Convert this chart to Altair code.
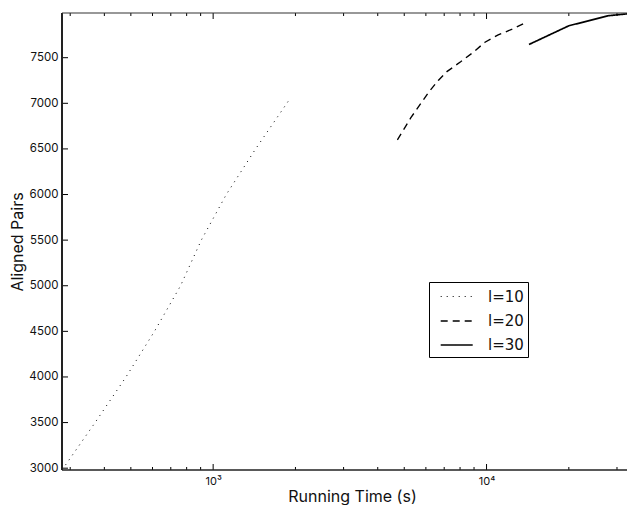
import altair as alt
import pandas as pd

series_names = ["l=10", "l=20", "l=30"]

l10_time = [280, 370, 480, 610, 760, 905, 1117, 1430, 1860, 1890]
l10_pairs = [2980, 3500, 4000, 4500, 5000, 5500, 6000, 6500, 7000, 7030]

l20_time = [4720, 5280, 6170, 6660, 7180, 8040, 8900, 9870, 11030, 12350, 14010]
l20_pairs = [6600, 6840, 7130, 7250, 7350, 7455, 7555, 7670, 7750, 7810, 7890]

l30_time = [14300, 20000, 27900, 34900]
l30_pairs = [7645, 7850, 7960, 7990]

x_major_ticks = [1000, 10000]
x_minor_ticks = [300, 400, 500, 600, 700, 800, 900,
                 2000, 3000, 4000, 5000, 6000, 7000, 8000, 9000,
                 20000, 30000]
y_ticks = [3000, 3500, 4000, 4500, 5000, 5500, 6000, 6500, 7000, 7500]

rows = []
for name, xs, ys in zip(series_names, [l10_time, l20_time, l30_time],
                        [l10_pairs, l20_pairs, l30_pairs]):
    for i, (a, b) in enumerate(zip(xs, ys)):
        rows.append({"series": name, "time": a, "pairs": b, "order": i})
df = pd.DataFrame(rows)

xt = pd.DataFrame({"value": x_major_ticks + x_minor_ticks,
                   "kind": ["major"] * len(x_major_ticks) + ["minor"] * len(x_minor_ticks)})
yt = pd.DataFrame({"value": y_ticks})

W, H = 565, 457
FONT = "Inter"

# visible window of the figure (right part cut off like the original)
x_scale = alt.Scale(type="log", domain=[280, 32640], nice=False)
y_scale = alt.Scale(domain=[2980, 7990], nice=False, zero=False)

lines = alt.Chart(df).mark_line(color="black", clip=True).encode(
    x=alt.X("time:Q", scale=x_scale,
            axis=alt.Axis(values=x_major_ticks,
                          labelExpr="datum.value == 1000 ? '10³' : '10⁴'",
                          ticks=False, tickSize=0, domain=False, grid=False,
                          title="Running Time (s)", labelFont=FONT, labelFontSize=11,
                          labelColor="#111", labelPadding=5,
                          titleFont=FONT, titleFontSize=16, titleFontWeight="normal",
                          titleColor="#111", titlePadding=2, titleX=290)),
    y=alt.Y("pairs:Q", scale=y_scale,
            axis=alt.Axis(values=y_ticks, format="d", ticks=False, tickSize=0,
                          domain=False, grid=False, title="Aligned Pairs",
                          labelFont=FONT, labelFontSize=11.5, labelColor="#111",
                          labelPadding=4, titleFont=FONT, titleFontSize=16,
                          titleFontWeight="normal", titleColor="#111",
                          titlePadding=3)),
    strokeDash=alt.StrokeDash(
        "series:N",
        scale=alt.Scale(domain=series_names, range=[[1, 5], [7, 5], [1, 0]]),
        legend=alt.Legend(title=None, orient="none", legendX=367, legendY=269,
                          strokeColor="black", fillColor="white", padding=4,
                          symbolType="M-0.33,0H2.87", symbolSize=400,
                          symbolStrokeColor="black", symbolStrokeWidth=1.5,
                          labelFont="DejaVu Sans", labelFontSize=15, labelColor="#111",
                          labelExpr="datum.label + '\u2007\u2007'",
                          labelOffset=33, rowPadding=5)),
    strokeWidth=alt.StrokeWidth(
        "series:N",
        scale=alt.Scale(domain=series_names, range=[1, 1.7, 1.6]),
        legend=None),
    order="order:Q",
)

def xrule(kind, y0, y1):
    return alt.Chart(xt).transform_filter(alt.datum.kind == kind).mark_rule(
        color="black", strokeWidth=1).encode(
        x=alt.X("value:Q", scale=x_scale),
        y=alt.value(y0), y2=alt.value(y1))

ticks = [
    xrule("major", H, H - 6), xrule("minor", H, H - 3),
    xrule("major", 0, 6), xrule("minor", 0, 3),
    alt.Chart(yt).mark_rule(color="black", strokeWidth=1).encode(
        y=alt.Y("value:Q", scale=y_scale),
        x=alt.value(0), x2=alt.value(6)),
]

frame_df = pd.DataFrame({"edge": ["left", "top", "bottom"]})
frame = [
    alt.Chart(frame_df).transform_filter(alt.datum.edge == "left").mark_rule(
        color="#222", strokeWidth=2).encode(x=alt.value(0), y=alt.value(0), y2=alt.value(H)),
    alt.Chart(frame_df).transform_filter(alt.datum.edge == "top").mark_rule(
        color="#333", strokeWidth=1.2).encode(x=alt.value(0), x2=alt.value(W), y=alt.value(0)),
    alt.Chart(frame_df).transform_filter(alt.datum.edge == "bottom").mark_rule(
        color="#222", strokeWidth=1.6).encode(x=alt.value(0), x2=alt.value(W), y=alt.value(H)),
]

chart = alt.layer(lines, *ticks, *frame).properties(
    width=W, height=H,
    autosize=alt.AutoSizeParams(type="none"),
    padding={"left": 54, "top": 5, "right": 0, "bottom": 35},
).configure_view(stroke=None)

chart.save("out.html", embed_options={"renderer": "svg", "actions": False})
